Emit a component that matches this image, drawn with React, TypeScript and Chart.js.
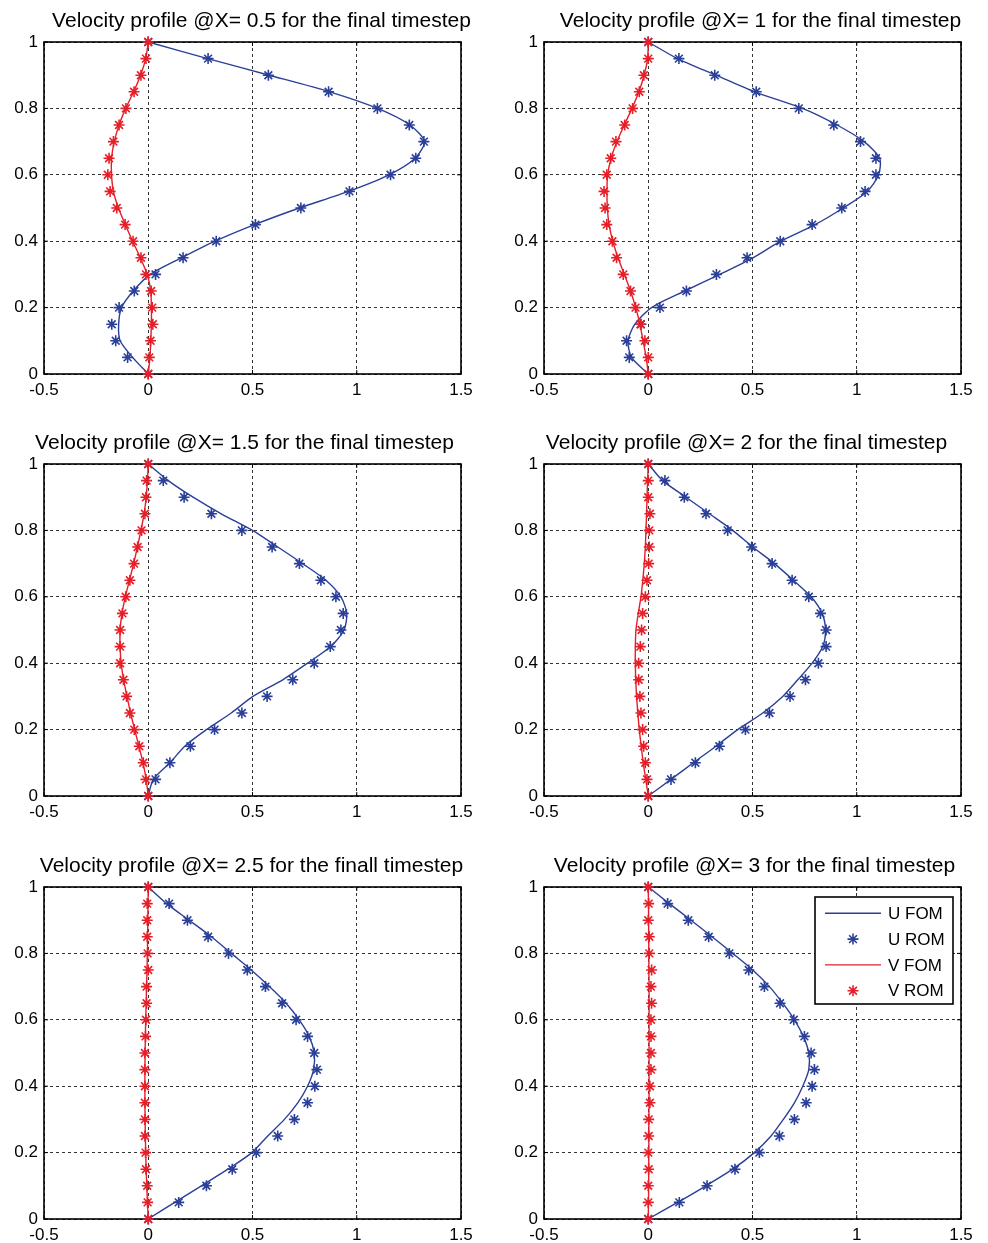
import React, { useEffect, useRef } from "react";
import { Chart, registerables } from "chart.js";

Chart.register(...registerables);

// ---------- DATA ----------
const yLevels = [0, 0.05, 0.1, 0.15, 0.2, 0.25, 0.3, 0.35, 0.4, 0.45, 0.5, 0.55, 0.6, 0.65, 0.7, 0.75, 0.8, 0.85, 0.9, 0.95, 1];
const xTickValues = [-0.5, 0, 0.5, 1, 1.5];
const xTickLabels = ["-0.5", "0", "0.5", "1", "1.5"];
const yTickValues = [0, 0.2, 0.4, 0.6, 0.8, 1];
const yTickLabels = ["0", "0.2", "0.4", "0.6", "0.8", "1"];
const seriesNames = ["U FOM", "U ROM", "V FOM", "V ROM"];
const panelTitles = [
  "Velocity profile @X= 0.5 for the final timestep",
  "Velocity profile @X= 1 for the final timestep",
  "Velocity profile @X= 1.5 for the final timestep",
  "Velocity profile @X= 2 for the final timestep",
  "Velocity profile @X= 2.5 for the finall timestep",
  "Velocity profile @X= 3 for the final timestep",
];

// X = 0.5
const uFomX05 = [0, -0.075, -0.135, -0.142, -0.128, -0.072, 0.01, 0.16, 0.32, 0.51, 0.725, 0.96, 1.155, 1.28, 1.325, 1.255, 1.1, 0.87, 0.58, 0.285, 0];
const uRomX05 = [0, -0.099, -0.156, -0.175, -0.14, -0.067, 0.035, 0.167, 0.326, 0.514, 0.732, 0.965, 1.162, 1.283, 1.322, 1.252, 1.099, 0.865, 0.576, 0.287, 0];
const vFomX05 = [0, 0.008, 0.012, 0.015, 0.015, 0.012, -0.005, -0.038, -0.075, -0.11, -0.143, -0.167, -0.176, -0.176, -0.163, -0.14, -0.108, -0.07, -0.037, -0.012, 0];
const vRomX05 = [0, 0.005, 0.011, 0.022, 0.019, 0.014, -0.011, -0.035, -0.073, -0.111, -0.151, -0.183, -0.194, -0.188, -0.167, -0.14, -0.107, -0.068, -0.035, -0.011, 0];

// X = 1
const uFomX1 = [0, -0.08, -0.097, -0.064, 0.016, 0.175, 0.343, 0.502, 0.635, 0.8, 0.935, 1.05, 1.105, 1.11, 1.035, 0.905, 0.74, 0.51, 0.325, 0.14, 0];
const uRomX1 = [0, -0.091, -0.104, -0.035, 0.056, 0.183, 0.327, 0.474, 0.633, 0.786, 0.928, 1.04, 1.092, 1.092, 1.018, 0.89, 0.722, 0.518, 0.319, 0.147, 0];
const vFomX1 = [0, -0.01, -0.025, -0.04, -0.06, -0.085, -0.115, -0.145, -0.17, -0.188, -0.196, -0.198, -0.195, -0.178, -0.15, -0.115, -0.078, -0.045, -0.02, -0.003, 0];
const vRomX1 = [0, 0, -0.016, -0.037, -0.061, -0.085, -0.12, -0.152, -0.172, -0.199, -0.207, -0.212, -0.199, -0.18, -0.155, -0.113, -0.075, -0.043, -0.021, 0, 0];

// X = 1.5
const uFomX15 = [0, 0.024, 0.104, 0.175, 0.279, 0.398, 0.502, 0.645, 0.764, 0.875, 0.939, 0.952, 0.924, 0.852, 0.74, 0.621, 0.5, 0.35, 0.215, 0.096, 0];
const uRomX15 = [0, 0.035, 0.104, 0.202, 0.318, 0.449, 0.57, 0.693, 0.796, 0.873, 0.924, 0.935, 0.9, 0.828, 0.725, 0.594, 0.449, 0.303, 0.172, 0.072, 0];
const vFomX15 = [0, -0.01, -0.025, -0.045, -0.065, -0.085, -0.102, -0.118, -0.13, -0.135, -0.135, -0.126, -0.11, -0.09, -0.07, -0.052, -0.035, -0.02, -0.01, -0.004, 0];
const vRomX15 = [0, -0.011, -0.024, -0.043, -0.067, -0.088, -0.104, -0.119, -0.135, -0.135, -0.135, -0.124, -0.108, -0.088, -0.068, -0.051, -0.032, -0.016, -0.011, -0.008, 0];

// X = 2
const uFomX2 = [0, 0.109, 0.216, 0.325, 0.429, 0.549, 0.645, 0.717, 0.786, 0.837, 0.85, 0.834, 0.781, 0.696, 0.605, 0.501, 0.405, 0.293, 0.181, 0.069, 0];
const uRomX2 = [0, 0.109, 0.226, 0.341, 0.466, 0.581, 0.68, 0.754, 0.816, 0.853, 0.853, 0.826, 0.77, 0.69, 0.594, 0.496, 0.381, 0.277, 0.173, 0.08, 0];
const vFomX2 = [0, -0.012, -0.024, -0.034, -0.043, -0.05, -0.056, -0.06, -0.062, -0.062, -0.059, -0.048, -0.035, -0.026, -0.019, -0.014, -0.011, -0.008, -0.006, -0.003, 0];
const vRomX2 = [0, -0.006, -0.014, -0.022, -0.027, -0.035, -0.04, -0.046, -0.046, -0.038, -0.032, -0.027, -0.014, -0.006, 0.002, 0.005, 0.005, 0.008, 0, 0, 0];

// X = 2.5
const uFomX25 = [0, 0.127, 0.255, 0.382, 0.497, 0.573, 0.653, 0.717, 0.764, 0.793, 0.796, 0.772, 0.724, 0.661, 0.581, 0.494, 0.398, 0.303, 0.196, 0.088, 0];
const uRomX25 = [0, 0.146, 0.279, 0.403, 0.518, 0.621, 0.701, 0.764, 0.799, 0.809, 0.796, 0.764, 0.709, 0.642, 0.562, 0.475, 0.385, 0.287, 0.188, 0.1, 0];
const vFomX25 = [0, -0.004, -0.007, -0.01, -0.012, -0.014, -0.015, -0.016, -0.016, -0.016, -0.015, -0.014, -0.012, -0.01, -0.008, -0.006, -0.004, -0.003, -0.002, -0.001, 0];
const vRomX25 = [0, -0.003, -0.005, -0.011, -0.013, -0.016, -0.016, -0.016, -0.016, -0.016, -0.016, -0.013, -0.011, -0.008, -0.008, 0, -0.003, -0.005, -0.005, -0.005, 0];

// X = 3
const uFomX3 = [0, 0.141, 0.277, 0.405, 0.509, 0.589, 0.648, 0.701, 0.741, 0.77, 0.77, 0.744, 0.701, 0.645, 0.581, 0.501, 0.405, 0.306, 0.205, 0.101, 0];
const uRomX3 = [0, 0.149, 0.282, 0.416, 0.533, 0.629, 0.701, 0.757, 0.786, 0.797, 0.781, 0.749, 0.698, 0.632, 0.557, 0.482, 0.389, 0.29, 0.192, 0.093, 0];
const vFomX3 = [0, 0.001, 0.002, 0.002, 0.003, 0.003, 0.003, 0.004, 0.004, 0.004, 0.004, 0.004, 0.004, 0.004, 0.004, 0.003, 0.003, 0.002, 0.002, 0.001, 0];
const vRomX3 = [0, 0, 0, 0.002, 0, 0.002, 0.002, 0.008, 0.008, 0.013, 0.013, 0.013, 0.013, 0.016, 0.013, 0.016, 0.005, 0.005, 0, 0.002, 0];

const panelSeries = [
  [uFomX05, uRomX05, vFomX05, vRomX05],
  [uFomX1, uRomX1, vFomX1, vRomX1],
  [uFomX15, uRomX15, vFomX15, vRomX15],
  [uFomX2, uRomX2, vFomX2, vRomX2],
  [uFomX25, uRomX25, vFomX25, vRomX25],
  [uFomX3, uRomX3, vFomX3, vRomX3],
];

// ---------- LAYOUT / STYLE ----------
const FONT = "'Liberation Sans', Arial, Helvetica, sans-serif";
const BLUE = "#2a3f98";
const RED = "#e61e28";
const CANVAS_W = 488;
const CANVAS_H = 405;
const panelPos = [
  { left: 0, top: 0, titleDx: 9 },
  { left: 500, top: 0, titleDx: 8 },
  { left: 0, top: 422, titleDx: -8 },
  { left: 500, top: 422, titleDx: -6 },
  { left: 0, top: 845, titleDx: -1 },
  { left: 500, top: 845, titleDx: 2 },
];

function drawStar(ctx: CanvasRenderingContext2D, x: number, y: number, r: number) {
  const d = r * Math.SQRT1_2;
  ctx.beginPath();
  ctx.moveTo(x - r, y);
  ctx.lineTo(x + r, y);
  ctx.moveTo(x, y - r);
  ctx.lineTo(x, y + r);
  ctx.moveTo(x - d, y - d);
  ctx.lineTo(x + d, y + d);
  ctx.moveTo(x - d, y + d);
  ctx.lineTo(x + d, y - d);
  ctx.stroke();
}

const decorPlugin = {
  id: "decor",
  beforeDatasetsDraw(chart: any) {
    const { ctx, chartArea: a, scales } = chart;
    ctx.save();
    ctx.strokeStyle = "#000";
    ctx.lineWidth = 1.6;
    ctx.setLineDash([]);
    ctx.strokeRect(a.left, a.top, a.right - a.left, a.bottom - a.top);
    ctx.lineWidth = 1;
    const tl = 4;
    ctx.beginPath();
    xTickValues.forEach((v) => {
      const x = scales.x.getPixelForValue(v);
      ctx.moveTo(x, a.bottom);
      ctx.lineTo(x, a.bottom - tl);
      ctx.moveTo(x, a.top);
      ctx.lineTo(x, a.top + tl);
    });
    yTickValues.forEach((v) => {
      const y = scales.y.getPixelForValue(v);
      ctx.moveTo(a.left, y);
      ctx.lineTo(a.left + tl, y);
      ctx.moveTo(a.right, y);
      ctx.lineTo(a.right - tl, y);
    });
    ctx.stroke();
    ctx.restore();
  },
  afterDraw(chart: any, _args: any, opts: any) {
    const { ctx, chartArea: a } = chart;
    ctx.save();
    // title
    ctx.fillStyle = "#000";
    ctx.font = `21px ${FONT}`;
    ctx.textAlign = "center";
    ctx.textBaseline = "middle";
    ctx.fillText(opts.title, (a.left + a.right) / 2 + opts.titleDx, a.top - 21);
    // legend
    if (opts.legend) {
      const bx = a.left + 271;
      const by = a.top + 10;
      const bw = 138;
      const bh = 107;
      ctx.fillStyle = "#fff";
      ctx.fillRect(bx, by, bw, bh);
      ctx.strokeStyle = "#000";
      ctx.lineWidth = 1.6;
      ctx.strokeRect(bx, by, bw, bh);
      chart.data.datasets.forEach((ds: any, i: number) => {
        const ry = by + 16.3 + i * 25.8;
        ctx.strokeStyle = ds.borderColor;
        ctx.lineWidth = ds.borderWidth;
        if (ds.showLine) {
          ctx.beginPath();
          ctx.moveTo(bx + 10, ry);
          ctx.lineTo(bx + 66, ry);
          ctx.stroke();
        } else {
          drawStar(ctx, bx + 38, ry, ds.pointRadius);
        }
        ctx.fillStyle = "#000";
        ctx.font = `17px ${FONT}`;
        ctx.textAlign = "left";
        ctx.textBaseline = "middle";
        ctx.fillText(ds.label, bx + 73, ry + 1);
      });
    }
    ctx.restore();
  },
};

function toPoints(xs: number[]) {
  return xs.map((x, i) => ({ x, y: yLevels[i] }));
}

function Panel({ index }: { index: number }) {
  const ref = useRef<HTMLCanvasElement | null>(null);
  useEffect(() => {
    if (!ref.current) return;
    const [uFom, uRom, vFom, vRom] = panelSeries[index];
    const lineDs = (label: string, data: number[], color: string, order: number) => ({
      label,
      data: toPoints(data),
      showLine: true,
      borderColor: color,
      backgroundColor: color,
      borderWidth: 1.4,
      pointRadius: 0,
      pointHoverRadius: 0,
      tension: 0.25,
      clip: false,
      order,
    });
    const markDs = (label: string, data: number[], color: string, order: number) => ({
      label,
      data: toPoints(data),
      showLine: false,
      borderColor: color,
      backgroundColor: color,
      borderWidth: 1.6,
      pointStyle: "star",
      pointRadius: 5.5,
      pointHoverRadius: 5.5,
      clip: false,
      order,
    });
    const tickFont = { family: FONT, size: 17 };
    const chart = new Chart(ref.current, {
      type: "scatter",
      data: {
        datasets: [
          lineDs(seriesNames[0], uFom, BLUE, 4),
          markDs(seriesNames[1], uRom, BLUE, 3),
          lineDs(seriesNames[2], vFom, RED, 2),
          markDs(seriesNames[3], vRom, RED, 1),
        ] as any,
      },
      options: {
        animation: false,
        responsive: false,
        devicePixelRatio: 1,
        events: [],
        layout: { padding: { top: 42, right: 27, left: 0, bottom: 0 } },
        plugins: {
          legend: { display: false },
          title: { display: false },
          tooltip: { enabled: false },
          decor: { title: panelTitles[index], titleDx: panelPos[index].titleDx, legend: index === 5 },
        } as any,
        scales: {
          x: {
            type: "linear",
            min: -0.5,
            max: 1.5,
            afterBuildTicks: (s: any) => {
              s.ticks = xTickValues.map((v) => ({ value: v }));
            },
            afterFit: (s: any) => {
              s.height = 31;
            },
            grid: { color: "#333", lineWidth: 1, drawTicks: false },
            border: { display: false, dash: [3, 3] },
            ticks: {
              padding: 6,
              color: "#000",
              font: tickFont,
              maxRotation: 0,
              autoSkip: false,
              callback: (v: any) => xTickLabels[xTickValues.indexOf(Number(v))] ?? String(v),
            },
          },
          y: {
            type: "linear",
            min: 0,
            max: 1,
            afterBuildTicks: (s: any) => {
              s.ticks = yTickValues.map((v) => ({ value: v }));
            },
            afterFit: (s: any) => {
              s.width = 44;
            },
            grid: { color: "#333", lineWidth: 1, drawTicks: false },
            border: { display: false, dash: [3, 3] },
            ticks: {
              padding: 6,
              color: "#000",
              font: tickFont,
              autoSkip: false,
              callback: (v: any) => yTickLabels[yTickValues.indexOf(Number(v))] ?? String(v),
            },
          },
        },
      } as any,
      plugins: [decorPlugin as any],
    });
    return () => chart.destroy();
  }, [index]);
  const pos = panelPos[index];
  return (
    <canvas
      ref={ref}
      width={CANVAS_W}
      height={CANVAS_H}
      style={{ position: "absolute", left: pos.left, top: pos.top, width: CANVAS_W, height: CANVAS_H }}
    />
  );
}

export default function App() {
  return (
    <div style={{ position: "absolute", left: 0, top: 0, width: 988, height: 1243, background: "#fff" }}>
      {panelPos.map((_, i) => (
        <Panel key={i} index={i} />
      ))}
    </div>
  );
}
